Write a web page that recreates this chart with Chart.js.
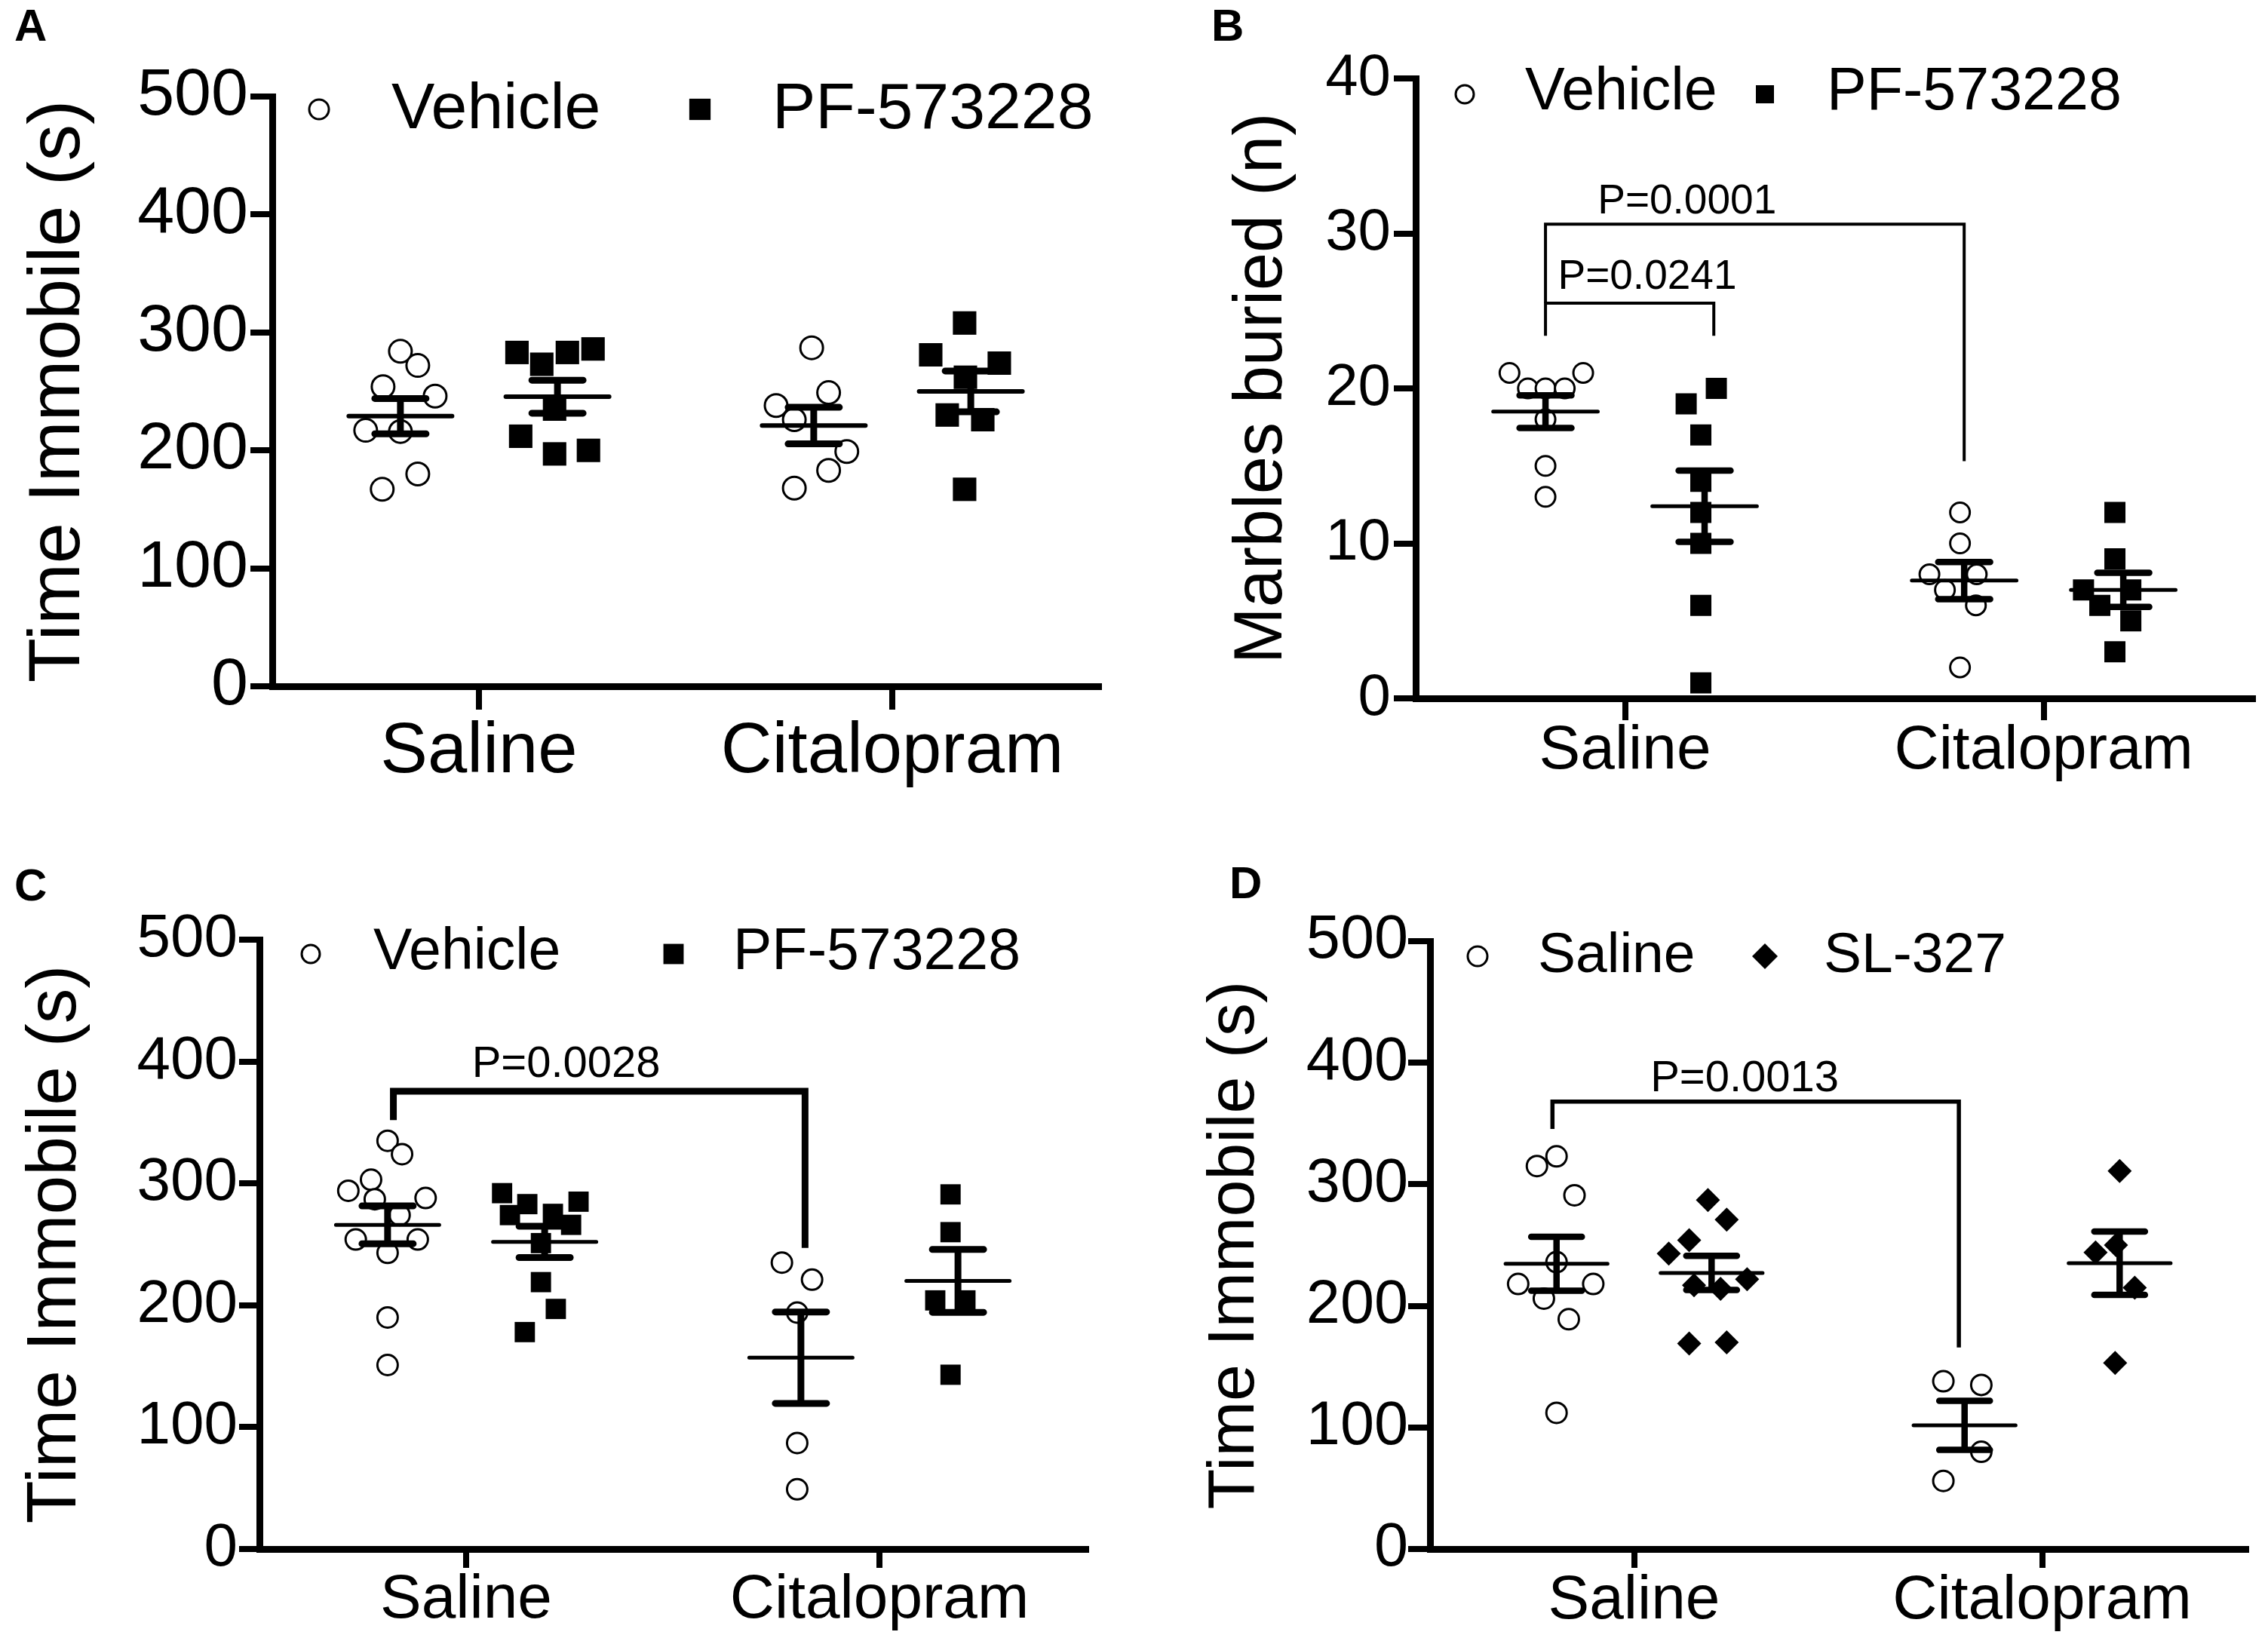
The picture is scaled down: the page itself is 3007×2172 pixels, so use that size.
<!DOCTYPE html>
<html>
<head>
<meta charset="utf-8">
<script src="https://cdn.jsdelivr.net/npm/chart.js@4.4.1/dist/chart.umd.min.js"></script>
<style>
  html, body { margin: 0; padding: 0; background: #fff; }
  #wrap { position: relative; width: 3007px; height: 2172px; background: #fff; }
  canvas { position: absolute; }
</style>
</head>
<body>
<div id="wrap">
  <canvas id="panelA" width="1504" height="1086" style="left:0px;top:0px"></canvas>
  <canvas id="panelB" width="1504" height="1086" style="left:1503px;top:0px"></canvas>
  <canvas id="panelC" width="1504" height="1086" style="left:0px;top:1086px"></canvas>
  <canvas id="panelD" width="1504" height="1086" style="left:1503px;top:1086px"></canvas>
</div>
<script>
// x categories shared by all four panels
const categories = ['Saline', 'Citalopram'];

// A - time immobile (s), [saline, citalopram]
const aLegend = ['Vehicle', 'PF-573228'];
const aVehicle = [[284, 272, 254, 246, 217, 216, 180, 167], [287, 249, 238, 226, 199, 183, 168]];
const aVehicleJit = [[0, .042, -.042, .084, -.084, 0, .042, -.044], [-.005, .036, -.091, -.047, .08, .036, -.047]];
const aDrug = [[283, 283, 286, 273, 235, 212, 197, 200], [308, 281, 274, 262, 230, 226, 167]];
const aDrugJit = [[-.098, .024, .086, -.038, -.007, -.089, -.007, .075], [-.015, -.097, .069, -.013, -.057, .029, -.015]];
const aMean = [[229, 221], [245.5, 250]];
const aSem = [[15, 15.5], [14, 17.3]];

// B - marbles buried (n)
const bLegend = ['Vehicle', 'PF-573228'];
const bVehicle = [[21, 21, 20, 20, 20, 18, 15, 13], [12, 10, 8, 8, 7, 6, 2]];
const bVehicleJit = [[-.086, .09, -.042, 0, .046, 0, 0, 0], [-.01, -.01, -.083, .03, -.046, .028, -.01]];
const bDrug = [[20, 19, 17, 14, 12, 10, 6, 1], [12, 9, 7, 7, 6, 5, 3]];
const bDrugJit = [[.028, -.044, -.009, -.009, -.009, -.009, -.009, -.009], [-.02, -.02, -.095, .018, -.056, .018, -.02]];
const bMean = [[18.5, 7.6], [12.4, 7.0]];
const bSem = [[1.05, 1.2], [2.3, 1.1]];
const bBrackets = [
  {x1: -0.19, x2: 0.81, top: 30.6, yLeft: 25.5, yRight: 15.3, label: 'P=0.0001', lx: 0.148, ly: 31.3},
  {x1: -0.19, x2: 0.212, top: 25.5, yLeft: 23.4, yRight: 23.4, label: 'P=0.0241', lx: 0.053, ly: 26.4}
];

// C - time immobile (s)
const cLegend = ['Vehicle', 'PF-573228'];
const cVehicle = [[335, 324, 303, 294, 287, 288, 274, 254, 254, 243, 190, 151], [235, 221, 194, 87, 49]];
const cVehicleJit = [[0, .035, -.04, -.095, -.031, .092, .029, -.077, .073, 0, 0, 0], [-.046, .027, -.009, -.009, -.009]];
const cDrug = [[292, 283, 285, 274, 275, 266, 251, 219, 197, 178], [291, 260, 204, 204, 143]];
const cDrugJit = [[-.103, -.042, .082, -.084, .02, .064, -.009, -.009, .027, -.048], [-.018, -.018, -.055, .018, -.018]];
const cMean = [[266, 157], [252, 220]];
const cSem = [[15.5, 37.5], [12.8, 25.8]];
const cBrackets = [
  {x1: -0.176, x2: 0.82, top: 375.6, yLeft: 352, yRight: 247, label: 'P=0.0028', lx: 0.242, ly: 387.4}
];

// D - time immobile (s), saline vs SL-327
const dLegend = ['Saline', 'SL-327'];
const dVehicle = [[315, 323, 291, 236, 218, 218, 206, 189, 112], [138, 135, 80, 56]];
const dVehicleJit = [[-.048, 0, .044, 0, -.094, .09, -.031, .03, 0], [-.052, .041, .041, -.052]];
const dDrug = [[287, 271, 254, 243, 222, 217, 214, 169, 170], [311, 250, 244, 215, 153]];
const dDrugJit = [[-.009, .037, -.055, -.105, .087, -.043, .022, -.055, .037], [0, -.009, -.059, .037, -.011]];
const dMean = [[234.6, 101.7], [227.1, 235.1]];
const dSem = [[22.2, 20.2], [14, 26]];
const dBrackets = [
  {x1: -0.2, x2: 0.796, top: 368, yLeft: 345.5, yRight: 165.8, label: 'P=0.0013', lx: 0.271, ly: 376.6}
];

const FONT = "'Liberation Sans', Arial, Helvetica, sans-serif";
const GROUP_OFFSET = 0.19;   // vehicle left of the tick, drug right
const MEAN_HALF = 0.125;
const CAP_HALF = 0.062;

Chart.defaults.font.family = FONT;
Chart.defaults.color = '#000';

function scatterPoints(values, jitter) {
  const pts = [];
  values.forEach((arr, c) => {
    arr.forEach((v, i) => pts.push({x: c + jitter[c][i], y: v}));
  });
  return pts;
}

function errorLines(means, sems) {
  const meanPts = [], semPts = [];
  means.forEach((row, s) => {
    row.forEach((m, c) => {
      const cx = c + (s === 0 ? -GROUP_OFFSET : GROUP_OFFSET);
      const e = sems[s][c];
      meanPts.push({x: cx - MEAN_HALF, y: m}, {x: cx + MEAN_HALF, y: m}, {x: cx, y: null});
      semPts.push({x: cx - CAP_HALF, y: m + e}, {x: cx + CAP_HALF, y: m + e}, {x: cx, y: null});
      semPts.push({x: cx - CAP_HALF, y: m - e}, {x: cx + CAP_HALF, y: m - e}, {x: cx, y: null});
      semPts.push({x: cx, y: m - e}, {x: cx, y: m + e}, {x: cx, y: null});
    });
  });
  return {meanPts, semPts};
}

function bracketPoints(b) {
  return [{x: b.x1, y: b.yLeft}, {x: b.x1, y: b.top}, {x: b.x2, y: b.top}, {x: b.x2, y: b.yRight}];
}

// panel letter, legend and P value labels
const decor = {
  id: 'decor',
  afterDraw(chart, args, o) {
    const ctx = chart.ctx;
    const xs = chart.scales.x, ys = chart.scales.y;
    ctx.save();
    ctx.fillStyle = '#000';
    ctx.strokeStyle = '#000';
    ctx.textAlign = 'left';
    ctx.textBaseline = 'alphabetic';
    ctx.font = 'bold ' + o.letterSize + 'px ' + FONT;
    ctx.fillText(o.letter, o.letterX, o.letterY);

    ctx.font = o.legendSize + 'px ' + FONT;
    o.legendItems.forEach((it, i) => {
      const mk = o.markers[i];
      ctx.lineWidth = mk.borderWidth;
      ctx.fillStyle = mk.bg;
      Chart.helpers.drawPoint(ctx, {pointStyle: mk.style, radius: it.r, borderWidth: mk.borderWidth, rotation: 0}, it.mx, it.my);
      ctx.fillStyle = '#000';
      ctx.fillText(o.legendText[i], it.tx, o.legendBaseline);
    });

    ctx.textAlign = 'center';
    ctx.font = o.pSize + 'px ' + FONT;
    (o.brackets || []).forEach(b => {
      ctx.fillText(b.label, xs.getPixelForValue(b.lx), ys.getPixelForValue(b.ly));
    });
    ctx.restore();
  }
};

function makePanel(id, d, st) {
  const lines = errorLines(d.mean, d.sem);
  const datasets = [
    {data: lines.meanPts, showLine: true, borderColor: '#000', borderWidth: st.meanWidth, borderCapStyle: 'round', pointRadius: 0},
    {data: lines.semPts, showLine: true, borderColor: '#000', borderWidth: st.semWidth, borderCapStyle: 'round', pointRadius: 0}
  ];
  (d.brackets || []).forEach(b => {
    datasets.push({data: bracketPoints(b), showLine: true, borderColor: '#000', borderWidth: st.bracketWidth,
      borderJoinStyle: 'miter', borderCapStyle: 'butt', pointRadius: 0});
  });
  const vehPts = scatterPoints(d.vehicle, d.vehicleJit).map(p => ({x: p.x - GROUP_OFFSET, y: p.y}));
  const drugPts = scatterPoints(d.drug, d.drugJit).map(p => ({x: p.x + GROUP_OFFSET, y: p.y}));
  datasets.push({label: d.legend[0], data: vehPts, pointStyle: st.markers[0].style, pointRadius: st.vehR,
    pointBorderWidth: st.markers[0].borderWidth, pointBackgroundColor: '#fff', pointBorderColor: '#000', showLine: false});
  datasets.push({label: d.legend[1], data: drugPts, pointStyle: st.markers[1].style, pointRadius: st.drugR,
    pointBorderWidth: 0, pointBackgroundColor: '#000', pointBorderColor: '#000', showLine: false});

  const W = 1504, H = 1086, a = st.area;
  return new Chart(document.getElementById(id), {
    type: 'scatter',
    data: {datasets},
    plugins: [decor],
    options: {
      responsive: false,
      devicePixelRatio: 1,
      animation: false,
      events: [],
      layout: {padding: {left: 0, top: a.t, right: W - a.r, bottom: 0}},
      plugins: {
        legend: {display: false},
        tooltip: {enabled: false},
        decor: {
          letter: st.letter, letterX: st.letterX, letterY: st.letterY, letterSize: 60,
          legendSize: st.legendSize, legendItems: st.legendItems, legendBaseline: st.legendBaseline,
          legendText: d.legend, markers: st.markers, pSize: st.pSize, brackets: d.brackets
        }
      },
      scales: {
        x: {
          type: 'linear', min: -0.5, max: 1.5,
          afterBuildTicks: s => { s.ticks = categories.map((c, i) => ({value: i})); },
          afterFit: s => { s.height = H - a.b; },
          ticks: {callback: v => categories[v], autoSkip: false, maxRotation: 0, color: '#000',
            font: {size: st.catSize, lineHeight: 1}, padding: st.catPad},
          grid: {drawOnChartArea: false, drawTicks: true, tickLength: st.xTickLen, lineWidth: 8, color: '#000'},
          border: {display: true, width: 9, color: '#000'}
        },
        y: {
          type: 'linear', min: 0, max: st.yMax,
          afterFit: s => { s.width = a.l; },
          ticks: {stepSize: st.yStep, color: '#000', font: {size: st.tickSize, lineHeight: 1}, padding: st.tickPad},
          grid: {drawOnChartArea: false, drawTicks: true, tickLength: st.yTickLen, lineWidth: 8, color: '#000'},
          border: {display: true, width: 9, color: '#000'},
          title: {display: true, text: st.title, color: '#000', font: {size: st.titleSize, lineHeight: 1},
            padding: {top: st.titlePad, bottom: 0}}
        }
      }
    }
  });
}

const circle = {style: 'circle', borderWidth: 3, bg: '#fff'};
const square = {style: 'rect', borderWidth: 0, bg: '#000'};
const diamond = {style: 'rectRot', borderWidth: 0, bg: '#000'};

makePanel('panelA',
  {legend: aLegend, vehicle: aVehicle, vehicleJit: aVehicleJit, drug: aDrug, drugJit: aDrugJit, mean: aMean, sem: aSem},
  {letter: 'A', letterX: 19, letterY: 54, area: {l: 361, r: 1457, t: 128, b: 910},
   yMax: 500, yStep: 100, title: 'Time Immobile (s)', titleSize: 97, titlePad: 30,
   tickSize: 88, tickPad: 3, yTickLen: 29, catSize: 94, catPad: 10, xTickLen: 31,
   legendSize: 86, legendBaseline: 170,
   legendItems: [{mx: 423, my: 145, r: 13, tx: 519}, {mx: 928, my: 145, r: 20, tx: 1024}],
   markers: [circle, square], vehR: 15, drugR: 22, meanWidth: 6, semWidth: 9, bracketWidth: 4, pSize: 56});

makePanel('panelB',
  {legend: bLegend, vehicle: bVehicle, vehicleJit: bVehicleJit, drug: bDrug, drugJit: bDrugJit, mean: bMean, sem: bSem, brackets: bBrackets},
  {letter: 'B', letterX: 103, letterY: 54, area: {l: 374, r: 1504, t: 104, b: 926},
   yMax: 40, yStep: 10, title: 'Marbles buried (n)', titleSize: 90, titlePad: 126,
   tickSize: 78, tickPad: 4, yTickLen: 29, catSize: 82, catPad: 0, xTickLen: 29,
   legendSize: 79, legendBaseline: 145,
   legendItems: [{mx: 439, my: 125, r: 12, tx: 519}, {mx: 837, my: 125, r: 17, tx: 919}],
   markers: [circle, square], vehR: 13, drugR: 19.8, meanWidth: 5, semWidth: 8.5, bracketWidth: 4, pSize: 55});

makePanel('panelC',
  {legend: cLegend, vehicle: cVehicle, vehicleJit: cVehicleJit, drug: cDrug, drugJit: cDrugJit, mean: cMean, sem: cSem, brackets: cBrackets},
  {letter: 'C', letterX: 19, letterY: 108, area: {l: 344, r: 1440, t: 160, b: 968},
   yMax: 500, yStep: 100, title: 'Time Immobile (s)', titleSize: 93, titlePad: 28,
   tickSize: 80, tickPad: 2, yTickLen: 27, catSize: 82, catPad: 2, xTickLen: 25,
   legendSize: 77, legendBaseline: 199,
   legendItems: [{mx: 412, my: 179, r: 12, tx: 495}, {mx: 893, my: 179, r: 19, tx: 972}],
   markers: [circle, square], vehR: 13.5, drugR: 19, meanWidth: 5, semWidth: 9, bracketWidth: 9, pSize: 58});

makePanel('panelD',
  {legend: dLegend, vehicle: dVehicle, vehicleJit: dVehicleJit, drug: dDrug, drugJit: dDrugJit, mean: dMean, sem: dSem, brackets: dBrackets},
  {letter: 'D', letterX: 127, letterY: 105, area: {l: 393, r: 1475, t: 162, b: 968},
   yMax: 500, yStep: 100, title: 'Time Immobile (s)', titleSize: 88, titlePad: 91,
   tickSize: 81, tickPad: 0, yTickLen: 29, catSize: 82, catPad: 3, xTickLen: 25,
   legendSize: 75, legendBaseline: 203,
   legendItems: [{mx: 456, my: 182, r: 13, tx: 536}, {mx: 837, my: 182, r: 17, tx: 915}],
   markers: [circle, diamond], vehR: 13.5, drugR: 16, meanWidth: 5, semWidth: 8.5, bracketWidth: 5.5, pSize: 58});
</script>
</body>
</html>
